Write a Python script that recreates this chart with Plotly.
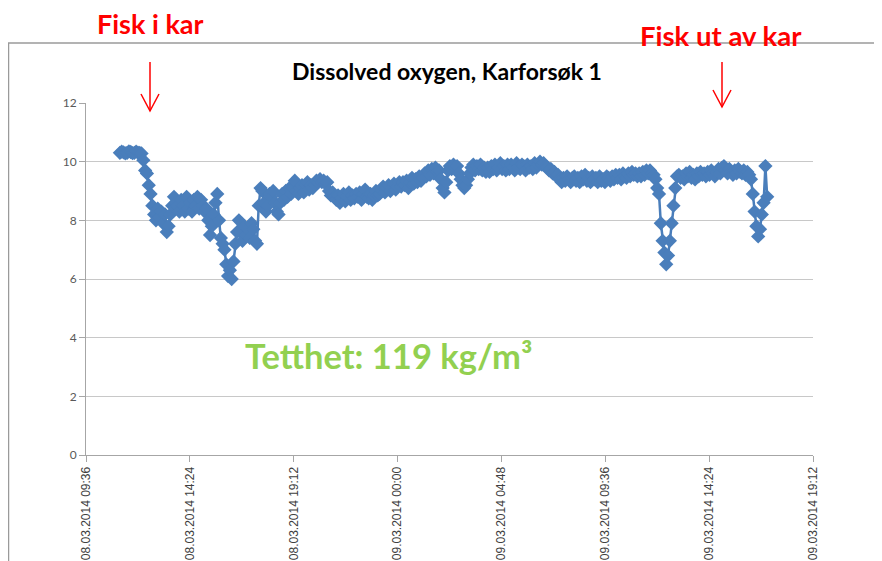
import pandas as pd
import plotly.graph_objects as go

# ---- data ----
# logger readings every 5 minutes, one row per hour, first reading 08.03.2014 11:10
start_time = "2014-03-08 11:10"
sample_step = "5min"
oxygen = [
    10.3, 10.34, 10.32, 10.28, 10.3, 10.35, 10.33, 10.29, 10.3, 10.34, 10.31, 10.3,
    10.28, 10.05, 9.7, 9.6, 9.2, 8.9, 8.5, 8.2, 8.0, 8.4, 8.1, 8.3,
    7.9, 8.2, 7.6, 7.8, 8.2, 8.5, 8.8, 8.6, 8.5, 8.3, 8.7, 8.5,
    8.3, 8.8, 8.4, 8.6, 8.3, 8.7, 8.5, 8.8, 8.4, 8.7, 8.5, 8.3,
    8.4, 8.0, 7.5, 7.8, 8.2, 8.6, 8.9, 8.0, 7.4, 7.2, 7.0, 6.5,
    6.1, 6.3, 6.0, 6.6, 7.2, 7.6, 8.0, 7.6, 7.3, 7.8, 7.5, 7.7,
    7.4, 7.9, 7.7, 7.3, 7.2, 8.5, 9.1, 9.0, 8.6, 8.3, 8.5, 8.9,
    8.8, 9.0, 8.6, 8.3, 8.2, 8.6, 8.9, 8.7, 9.0, 8.8, 9.1, 8.9,
    9.1, 9.35, 9.0, 8.9, 9.1, 9.2, 8.95, 9.2, 9.3, 9.05, 9.2, 9.1,
    9.2, 9.35, 9.3, 9.4, 9.3, 9.35, 9.25, 9.3, 9.0, 8.85, 8.95, 8.8,
    8.7, 8.85, 8.6, 8.75, 8.9, 8.65, 8.8, 8.95, 8.7, 8.85, 8.75, 8.9,
    8.8, 8.95, 8.7, 8.9, 9.05, 8.8, 8.75, 8.9, 8.7, 8.85, 9.0, 8.85,
    8.9, 9.05, 9.15, 8.95, 9.1, 9.2, 9.0, 9.1, 9.25, 9.05, 9.15, 9.3,
    9.15, 9.3, 9.2, 9.35, 9.1, 9.3, 9.45, 9.25, 9.4, 9.3, 9.5, 9.35,
    9.45, 9.6, 9.5, 9.7, 9.55, 9.75, 9.6, 9.8, 9.65, 9.7, 9.4, 9.1,
    8.95, 9.3, 9.7, 9.85, 9.75, 9.9, 9.8, 9.85, 9.6, 9.4, 9.2, 9.1,
    9.2, 9.4, 9.6, 9.8, 9.9, 9.7, 9.85, 9.75, 9.9, 9.7, 9.8, 9.65,
    9.8, 9.65, 9.85, 9.75, 9.9, 9.7, 9.8, 9.95, 9.75, 9.85, 9.7, 9.9,
    9.75, 9.9, 9.8, 9.7, 9.95, 9.8, 9.75, 9.9, 9.85, 9.7, 9.9, 9.8,
    9.85, 9.75, 9.95, 9.8, 9.9, 10.0, 9.9, 9.95, 9.85, 9.8, 9.7, 9.75,
    9.6, 9.65, 9.5, 9.55, 9.4, 9.3, 9.45, 9.35, 9.5, 9.4, 9.3, 9.45,
    9.5, 9.35, 9.45, 9.3, 9.5, 9.4, 9.55, 9.35, 9.45, 9.3, 9.5, 9.4,
    9.45, 9.3, 9.5, 9.35, 9.4, 9.3, 9.5, 9.45, 9.35, 9.5, 9.4, 9.55,
    9.45, 9.55, 9.4, 9.6, 9.5, 9.45, 9.6, 9.5, 9.65, 9.55, 9.6, 9.5,
    9.6, 9.5, 9.65, 9.55, 9.7, 9.6, 9.7, 9.6, 9.55, 9.4, 9.1, 8.9,
    7.9, 7.3, 6.9, 6.5, 6.8, 7.3, 7.9, 8.5, 9.1, 9.5, 9.55, 9.45,
    9.5, 9.4, 9.6, 9.5, 9.65, 9.45, 9.55, 9.4, 9.6, 9.5, 9.65, 9.55,
    9.6, 9.5, 9.65, 9.55, 9.7, 9.6, 9.5, 9.65, 9.75, 9.6, 9.8, 9.85,
    9.7, 9.6, 9.75, 9.65, 9.55, 9.7, 9.6, 9.75, 9.65, 9.6, 9.7, 9.55,
    9.65, 9.55, 9.4, 8.9, 8.3, 7.8, 7.45, 7.7, 8.2, 8.6, 9.85, 8.8,
]
x_tick_values = [
    "2014-03-08 09:36", "2014-03-08 14:24", "2014-03-08 19:12", "2014-03-09 00:00",
    "2014-03-09 04:48", "2014-03-09 09:36", "2014-03-09 14:24", "2014-03-09 19:12",
]
x_tick_labels = [
    "08.03.2014 09:36", "08.03.2014 14:24", "08.03.2014 19:12", "09.03.2014 00:00",
    "09.03.2014 04:48", "09.03.2014 09:36", "09.03.2014 14:24", "09.03.2014 19:12",
]
y_ticks = [0, 2, 4, 6, 8, 10, 12]
title_text = "Dissolved oxygen, Karforsøk 1"
label_in = "Fisk i kar"
label_out = "Fisk ut av kar"
density_text = "Tetthet: 119 kg/m³"

# ---- build series ----
times = pd.date_range(start_time, periods=len(oxygen), freq=sample_step)

BLUE = "#4A7EBB"
GRID = "#C8C8C8"
AXIS = "#A6A6A6"
FONT = "Lato, 'Open Sans', sans-serif"

# the page body has an 8px margin, so the figure starts at page pixel (8, 8)
OFF = 8
FIG_W, FIG_H = 882 - OFF, 561 - OFF

fig = go.Figure()
fig.add_trace(go.Scatter(
    x=times, y=oxygen, mode="lines+markers",
    line=dict(color=BLUE, width=2.5),
    marker=dict(symbol="diamond", size=11, color=BLUE, line=dict(width=0)),
    showlegend=False, hoverinfo="x+y",
))

fig.update_layout(
    width=FIG_W, height=FIG_H,
    margin=dict(l=86 - OFF, r=FIG_W - (813 - OFF), t=103 - OFF, b=FIG_H - (455 - OFF),
                autoexpand=False),
    paper_bgcolor="white", plot_bgcolor="white",
    title=dict(text="<b>" + title_text + "</b>", x=(447 - OFF) / FIG_W, xanchor="center",
               y=1 - (72 - OFF) / FIG_H, yanchor="middle",
               font=dict(family=FONT, size=23, color="black")),
    xaxis=dict(
        range=[x_tick_values[0], x_tick_values[-1]], automargin=False,
        tickmode="array", tickvals=x_tick_values, ticktext=x_tick_labels,
        tickangle=-90, ticks="outside", ticklen=6, tickcolor=AXIS,
        showline=True, linecolor=AXIS, linewidth=1, showgrid=False, zeroline=False,
        tickfont=dict(family="Liberation Sans, Arial, sans-serif", size=12, color="#404040"),
    ),
    yaxis=dict(
        range=[0, 12], tickmode="array", tickvals=y_ticks, automargin=False,
        ticks="outside", ticklen=6, tickcolor=AXIS,
        showline=True, linecolor=AXIS, linewidth=1,
        showgrid=True, gridcolor=GRID, gridwidth=1, zeroline=False,
        tickfont=dict(family=FONT, size=12, color="#595959"),
    ),
)

# helpers: page pixel -> paper coordinates of the plot area (86..813, 103..455)
PX_W, PX_H = 727.0, 352.0
def px_x(p):
    return (p - 86) / PX_W
def px_y(p):
    return (455 - p) / PX_H

# chart frame (outer border of the embedded chart)
fig.add_shape(type="line", xref="paper", yref="paper",
              x0=px_x(8), x1=px_x(882), y0=px_y(43), y1=px_y(43),
              line=dict(color="#9A9A9A", width=1.5))
fig.add_shape(type="line", xref="paper", yref="paper",
              x0=px_x(8.5), x1=px_x(8.5), y0=px_y(43), y1=px_y(561),
              line=dict(color="#9A9A9A", width=1.5))

# red arrows
for ax_px, tip in [(150, 111), (722, 107)]:
    fig.add_shape(type="line", xref="paper", yref="paper",
                  x0=px_x(ax_px), x1=px_x(ax_px), y0=px_y(62), y1=px_y(tip),
                  line=dict(color="red", width=1.5))
    fig.add_shape(type="path", xref="paper", yref="paper",
                  path=(f"M {px_x(ax_px-9)},{px_y(tip-17)} L {px_x(ax_px)},{px_y(tip)} "
                        f"L {px_x(ax_px+9)},{px_y(tip-17)}"),
                  line=dict(color="red", width=1.5))

fig.add_annotation(text="<b>" + label_in + "</b>", xref="paper", yref="paper",
                   x=px_x(150), y=px_y(23), xanchor="center", yanchor="middle",
                   height=24, valign="middle", borderpad=0,
                   showarrow=False, font=dict(family=FONT, size=27, color="#FF0000"))
fig.add_annotation(text="<b>" + label_out + "</b>", xref="paper", yref="paper",
                   x=px_x(721), y=px_y(35), xanchor="center", yanchor="middle",
                   showarrow=False, font=dict(family=FONT, size=27.5, color="#FF0000"))
fig.add_annotation(text="<b>" + density_text + "</b>", xref="paper", yref="paper",
                   x=px_x(388), y=px_y(355), xanchor="center", yanchor="middle",
                   showarrow=False, font=dict(family=FONT, size=34.5, color="#92D050"))

fig.write_html("out.html")
